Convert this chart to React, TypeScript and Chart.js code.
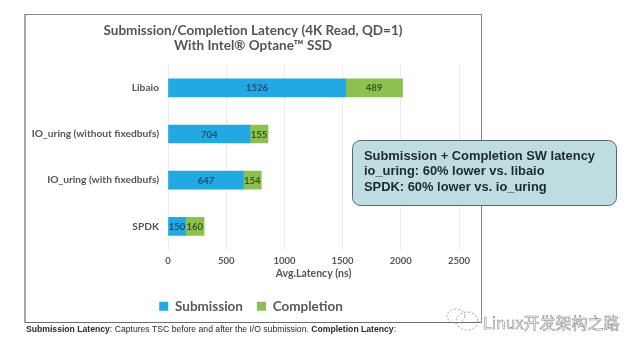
import React, { useEffect, useRef } from "react";
import { Chart, registerables } from "chart.js";

Chart.register(...registerables);

const categories = ["Libaio", "IO_uring (without fixedbufs)", "IO_uring (with fixedbufs)", "SPDK"];
const submission = [1526, 704, 647, 150];
const completion = [489, 155, 154, 160];
const xTicksMax = 2500;
const titleLines = ["Submission/Completion Latency (4K Read, QD=1)", "With Intel® Optane™ SSD"];
const calloutLines = [
  "Submission + Completion SW latency",
  "io_uring: 60% lower vs. libaio",
  "SPDK: 60% lower vs. io_uring",
];
const watermark = "Linux开发架构之路";

const LATO = "Lato, 'Open Sans', sans-serif";
const ARIAL = "'Liberation Sans', Arial, sans-serif";

const decorPlugin = {
  id: "decor",
  afterLayout(chart: any) {
    // centre the title and legend on the slide rather than on the canvas
    if (chart.titleBlock) {
      chart.titleBlock.left = 103;
      chart.titleBlock.right = 403;
    }
    if (chart.legend) {
      chart.legend.left = 101;
      chart.legend.right = 401;
    }
  },
  beforeDraw(chart: any) {
    const c = chart.ctx;
    c.save();
    c.fillStyle = "#ffffff";
    c.fillRect(0, 0, chart.width, chart.height);
    c.strokeStyle = "#8a8a8a";
    c.lineWidth = 1;
    c.beginPath();
    c.moveTo(25, 14.5);
    c.lineTo(481.5, 14.5);
    c.moveTo(481.5, 14.5);
    c.lineTo(481.5, 322.5);
    c.stroke();
    c.strokeStyle = "#6e6e6e";
    c.beginPath();
    c.moveTo(481.5, 322.5);
    c.lineTo(25, 322.5);
    c.stroke();
    c.lineWidth = 1.5;
    c.strokeStyle = "#8a8a8a";
    c.beginPath();
    c.moveTo(25, 14);
    c.lineTo(25, 323);
    c.stroke();
    c.restore();
  },
  afterDraw(chart: any) {
    const c = chart.ctx;
    c.save();
    // value labels inside the bars
    c.textAlign = "center";
    c.textBaseline = "middle";
    c.font = `bold 9.5px ${LATO}`;
    chart.data.datasets.forEach((ds: any, i: number) => {
      const meta = chart.getDatasetMeta(i);
      c.fillStyle = i === 0 ? "#17506f" : "#2f5a1a";
      meta.data.forEach((bar: any, k: number) => {
        const p = bar.getProps(["x", "y", "base"], true);
        c.fillText(String(ds.data[k]), (p.x + p.base) / 2, p.y + 0.5);
      });
    });

    // callout
    c.beginPath();
    c.roundRect(352.5, 140.5, 264, 65, 8);
    c.fillStyle = "#bfdde1";
    c.fill();
    c.strokeStyle = "#4f6d70";
    c.lineWidth = 1;
    c.stroke();
    c.fillStyle = "#1b2a2e";
    c.textAlign = "left";
    c.textBaseline = "middle";
    c.font = `bold 12.9px ${ARIAL}`;
    calloutLines.forEach((t, i) => c.fillText(t, 364, 156 + i * 15.5));

    // footnote
    c.fillStyle = "#2a2a2a";
    c.font = `bold 8.65px ${ARIAL}`;
    const a = "Submission Latency";
    c.fillText(a, 26, 330);
    let x = 26 + c.measureText(a).width;
    c.font = `8.65px ${ARIAL}`;
    const b = ": Captures TSC before and after the I/O submission. ";
    c.fillText(b, x, 330);
    x += c.measureText(b).width;
    c.font = `bold 8.65px ${ARIAL}`;
    const d = "Completion Latency";
    c.fillText(d, x, 330);
    x += c.measureText(d).width;
    c.font = `8.65px ${ARIAL}`;
    c.fillText(":", x, 330);

    // watermark
    c.strokeStyle = "#8c8c8c";
    c.lineWidth = 0.8;
    c.setLineDash([2, 2]);
    c.beginPath();
    c.ellipse(467, 321, 11, 9, 0, 0, Math.PI * 2);
    c.stroke();
    c.beginPath();
    c.ellipse(456, 316, 9, 7, 0, 0, Math.PI * 2);
    c.stroke();
    c.setLineDash([]);
    c.font = `16px 'Noto Sans CJK SC', ${ARIAL}`;
    c.fillStyle = "#ffffff";
    c.fillText(watermark, 483, 323);
    c.lineWidth = 0.5;
    c.strokeStyle = "#7c7c7c";
    c.strokeText(watermark, 483, 323);
    c.restore();
  },
};

export default function App() {
  const ref = useRef<HTMLCanvasElement | null>(null);
  useEffect(() => {
    if (!ref.current) return;
    const chart = new Chart(ref.current, {
      type: "bar",
      plugins: [decorPlugin],
      data: {
        labels: categories,
        datasets: [
          { label: "Submission", data: submission, backgroundColor: "#22a9e3", barThickness: 18 },
          { label: "Completion", data: completion, backgroundColor: "#8cc152", barThickness: 18 },
        ],
      },
      options: {
        indexAxis: "y",
        responsive: false,
        animation: false,
        layout: { padding: { left: 0, right: 181, top: 0, bottom: 29 } },
        plugins: {
          tooltip: { enabled: false },
          title: {
            display: true,
            text: titleLines,
            color: "#555555",
            font: { family: LATO, size: 13.5, weight: "bold", lineHeight: 1.1 },
            padding: { top: 23, bottom: 12 },
          },
          legend: {
            position: "bottom",
            labels: {
              color: "#5a5a5a",
              font: { family: LATO, size: 13.5, weight: "bold" },
              boxWidth: 9,
              boxHeight: 9,
              padding: 14,
              usePointStyle: false,
            },
          },
        },
        scales: {
          x: {
            stacked: true,
            min: 0,
            max: xTicksMax,
            ticks: {
              stepSize: 500,
              color: "#555555",
              padding: 6,
              maxRotation: 0,
              callback: (v: any) => String(v),
              font: { family: LATO, size: 9.5, weight: "bold" },
            },
            grid: { color: "#ececec", drawTicks: false },
            border: { display: false },
            title: {
              display: true,
              text: "Avg.Latency (ns)",
              color: "#555555",
              font: { family: LATO, size: 10.5, weight: "bold" },
              padding: { top: -6, bottom: 6 },
            },
          },
          y: {
            stacked: true,
            afterFit(scale: any) {
              scale.width = 168;
            },
            ticks: {
              color: "#555555",
              padding: 9,
              font: { family: LATO, size: 10.2, weight: "bold" },
            },
            grid: { display: false, drawTicks: false },
            border: { display: false },
          },
        },
      },
    } as any);
    return () => chart.destroy();
  }, []);
  return (
    <div style={{ position: "fixed", left: 0, top: 0, width: 640, height: 352, background: "#fff" }}>
      <canvas ref={ref} width={640} height={352} style={{ display: "block" }} />
    </div>
  );
}
